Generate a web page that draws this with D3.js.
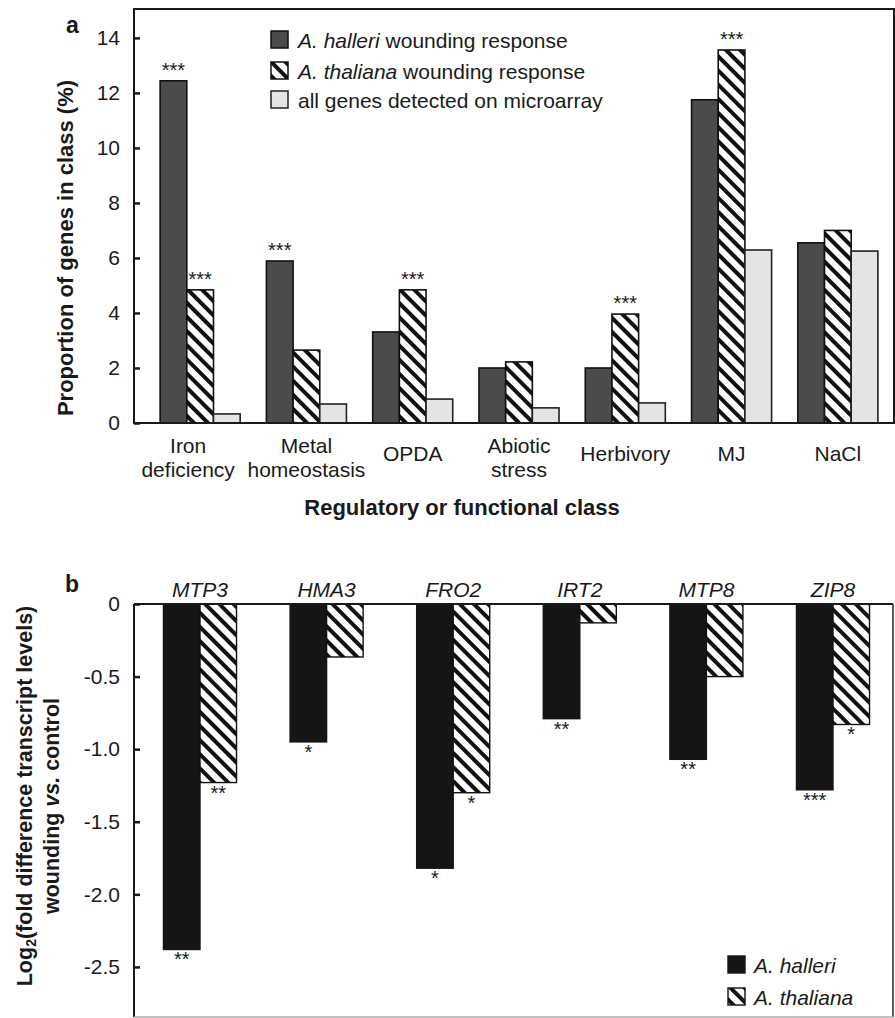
<!DOCTYPE html>
<html>
<head>
<meta charset="utf-8">
<script src="https://cdn.jsdelivr.net/npm/d3@7"></script>
<style>
  html, body { margin: 0; padding: 0; background: #fff; }
  svg { display: block; font-family: "Liberation Sans", Arial, sans-serif; }
</style>
</head>
<body>
<svg id="chart" width="895" height="1018"></svg>
<script>
// ---------- Panel a data ----------
const categories = ["Iron deficiency", "Metal homeostasis", "OPDA", "Abiotic stress", "Herbivory", "MJ", "NaCl"];
const categoryLines = [["Iron", "deficiency"], ["Metal", "homeostasis"], ["OPDA"], ["Abiotic", "stress"], ["Herbivory"], ["MJ"], ["NaCl"]];
const seriesNamesA = ["A. halleri wounding response", "A. thaliana wounding response", "all genes detected on microarray"];
const halleriPct  = [12.44, 5.89, 3.31, 2.00, 2.00, 11.75, 6.55];
const thalianaPct = [4.84, 2.65, 4.84, 2.22, 3.96, 13.56, 7.00];
const allGenesPct = [0.33, 0.69, 0.87, 0.55, 0.73, 6.29, 6.25];
const halleriSigA  = ["***", "***", "", "", "", "", ""];
const thalianaSigA = ["***", "", "***", "", "***", "***", ""];
const allGenesSigA = ["", "", "", "", "", "", ""];
const yTicksA = [0, 2, 4, 6, 8, 10, 12, 14];

// ---------- Panel b data ----------
const genes = ["MTP3", "HMA3", "FRO2", "IRT2", "MTP8", "ZIP8"];
const seriesNamesB = ["A. halleri", "A. thaliana"];
const halleriLog2  = [-2.38, -0.95, -1.82, -0.79, -1.07, -1.28];
const thalianaLog2 = [-1.23, -0.365, -1.30, -0.13, -0.50, -0.83];
const halleriSigB  = ["**", "*", "*", "**", "**", "***"];
const thalianaSigB = ["**", "", "*", "", "", "*"];
const yTicksB = [0, -0.5, -1.0, -1.5, -2.0, -2.5];
const yTickLabelsB = ["0", "-0.5", "-1.0", "-1.5", "-2.0", "-2.5"];

const svg = d3.select("#chart");
const ink = "#1a1a1a";

// hatch pattern
const defs = svg.append("defs");
const pat = defs.append("pattern")
  .attr("id", "hatch").attr("patternUnits", "userSpaceOnUse")
  .attr("width", 10).attr("height", 10)
  .attr("patternTransform", "rotate(45)");
pat.append("rect").attr("width", 10).attr("height", 10).attr("fill", "#fff");
pat.append("rect").attr("width", 10).attr("height", 4).attr("fill", "#111");

// =================== PANEL A ===================
const A = { left: 134, right: 894, top: 9, bottom: 423 };
const xA = d3.scaleBand().domain(categories).range([147, 891]).paddingInner(0.247).paddingOuter(0.1235);
const sA = d3.scaleBand().domain([0, 1, 2]).range([0, xA.bandwidth()]);
const yA = d3.scaleLinear().domain([0, 15.05]).range([A.bottom, A.top]);

const gA = svg.append("g");
const seriesA = [
  { vals: halleriPct, sig: halleriSigA, fill: "#4b4b4b", stroke: "#111" },
  { vals: thalianaPct, sig: thalianaSigA, fill: "url(#hatch)", stroke: "#111" },
  { vals: allGenesPct, sig: allGenesSigA, fill: "#e4e4e4", stroke: "#222" }
];
seriesA.forEach((s, si) => {
  gA.selectAll(null).data(categories).enter().append("rect")
    .attr("x", c => xA(c) + sA(si))
    .attr("y", (c, i) => yA(s.vals[i]))
    .attr("width", sA.bandwidth())
    .attr("height", (c, i) => yA(0) - yA(s.vals[i]))
    .attr("fill", s.fill).attr("stroke", s.stroke).attr("stroke-width", 1.6);
  gA.selectAll(null).data(categories).enter().append("text")
    .attr("x", c => xA(c) + sA(si) + sA.bandwidth() / 2)
    .attr("y", (c, i) => yA(s.vals[i]) - 4)
    .attr("text-anchor", "middle").attr("font-size", 20).attr("fill", ink)
    .text((c, i) => s.sig[i]);
});

// frame
gA.append("rect").attr("x", A.left).attr("y", A.top)
  .attr("width", A.right - A.left).attr("height", A.bottom - A.top)
  .attr("fill", "none").attr("stroke", ink).attr("stroke-width", 2);

// y axis
const axA = gA.append("g").attr("transform", `translate(${A.left},0)`)
  .call(d3.axisLeft(yA).tickValues(yTicksA).tickSizeInner(-6).tickSizeOuter(0).tickPadding(14));
axA.select(".domain").remove();
axA.selectAll(".tick line").attr("stroke", ink).attr("stroke-width", 2.5);
axA.selectAll(".tick text").attr("font-size", 21).attr("fill", ink).attr("font-family", "Liberation Sans, Arial, sans-serif");

// category labels
categoryLines.forEach((lines, i) => {
  const cx = xA(categories[i]) + xA.bandwidth() / 2 + (i === 0 ? -12 : 0);
  const t = gA.append("text").attr("text-anchor", "middle").attr("font-size", 21).attr("fill", ink);
  if (lines.length === 1) {
    t.append("tspan").attr("x", cx).attr("y", 453).attr("dominant-baseline", "central").text(lines[0]);
  } else {
    lines.forEach((ln, k) => t.append("tspan").attr("x", cx).attr("y", 445 + k * 24).attr("dominant-baseline", "central").text(ln));
  }
});

gA.append("text").attr("x", 462).attr("y", 507).attr("text-anchor", "middle")
  .attr("dominant-baseline", "central").attr("font-size", 22).attr("font-weight", "bold").attr("fill", ink)
  .text("Regulatory or functional class");

gA.append("text").attr("transform", "translate(65,248) rotate(-90)").attr("text-anchor", "middle")
  .attr("dominant-baseline", "central").attr("font-size", 22).attr("font-weight", "bold").attr("fill", ink)
  .text("Proportion of genes in class (%)");

gA.append("text").attr("x", 66).attr("y", 33).attr("font-size", 23).attr("font-weight", "bold").attr("fill", ink).text("a");

// legend A
const legA = gA.append("g");
const legYA = [40, 71, 100];
seriesA.forEach((s, i) => {
  legA.append("rect").attr("x", 271).attr("y", legYA[i] - 9).attr("width", 17).attr("height", 17)
    .attr("fill", s.fill).attr("stroke", s.stroke).attr("stroke-width", 1.5);
  const t = legA.append("text").attr("x", 298).attr("y", legYA[i]).attr("dominant-baseline", "central")
    .attr("font-size", 21).attr("fill", ink);
  const name = seriesNamesA[i];
  const m = name.match(/^(A\. \w+)( .*)$/);
  if (m) {
    t.append("tspan").attr("font-style", "italic").text(m[1]);
    t.append("tspan").text(m[2]);
  } else {
    t.text(name);
  }
});

// =================== PANEL B ===================
const B = { left: 134, right: 893, top: 604, bottom: 1017 };
const xB = d3.scaleBand().domain(genes).range([136.7, 896.3]).paddingInner(0.423).paddingOuter(0.2115);
const sB = d3.scaleBand().domain([0, 1]).range([0, xB.bandwidth()]);
const yB = d3.scaleLinear().domain([-2.845, 0]).range([B.bottom, B.top]);

const gB = svg.append("g");
const seriesB = [
  { vals: halleriLog2, sig: halleriSigB, fill: "#151515", stroke: "#151515" },
  { vals: thalianaLog2, sig: thalianaSigB, fill: "url(#hatch)", stroke: "#111" }
];
seriesB.forEach((s, si) => {
  gB.selectAll(null).data(genes).enter().append("rect")
    .attr("x", g => xB(g) + sB(si))
    .attr("y", yB(0))
    .attr("width", sB.bandwidth())
    .attr("height", (g, i) => yB(s.vals[i]) - yB(0))
    .attr("fill", s.fill).attr("stroke", s.stroke).attr("stroke-width", 1.4);
  gB.selectAll(null).data(genes).enter().append("text")
    .attr("x", g => xB(g) + sB(si) + sB.bandwidth() / 2)
    .attr("y", (g, i) => yB(s.vals[i]) + 17)
    .attr("text-anchor", "middle").attr("font-size", 20).attr("fill", ink)
    .text((g, i) => s.sig[i]);
});

// frame B
gB.append("line").attr("x1", B.left).attr("x2", B.right).attr("y1", B.top).attr("y2", B.top).attr("stroke", ink).attr("stroke-width", 2);
gB.append("line").attr("x1", B.left).attr("x2", B.left).attr("y1", B.top).attr("y2", B.bottom).attr("stroke", ink).attr("stroke-width", 2);
gB.append("line").attr("x1", B.right).attr("x2", B.right).attr("y1", B.top).attr("y2", B.bottom).attr("stroke", "#333").attr("stroke-width", 1.6);
gB.append("line").attr("x1", B.left).attr("x2", B.right).attr("y1", B.bottom).attr("y2", B.bottom).attr("stroke", "#aaa").attr("stroke-width", 1.6);

const axB = gB.append("g").attr("transform", `translate(${B.left},0)`)
  .call(d3.axisLeft(yB).tickValues(yTicksB).tickFormat((d, i) => yTickLabelsB[i]).tickSizeInner(-6).tickSizeOuter(0).tickPadding(14));
axB.select(".domain").remove();
axB.selectAll(".tick line").attr("stroke", ink).attr("stroke-width", 2.5);
axB.selectAll(".tick text").attr("font-size", 21).attr("fill", ink).attr("font-family", "Liberation Sans, Arial, sans-serif");

// gene labels
gB.selectAll(null).data(genes).enter().append("text")
  .attr("x", g => xB(g) + xB.bandwidth() / 2).attr("y", 589)
  .attr("text-anchor", "middle").attr("dominant-baseline", "central")
  .attr("font-size", 21).attr("font-style", "italic").attr("fill", ink).text(g => g);

// y title B
const t1 = gB.append("text").attr("transform", "translate(25,796) rotate(-90)").attr("text-anchor", "middle")
  .attr("dominant-baseline", "central").attr("font-size", 21.5).attr("font-weight", "bold").attr("fill", ink);
t1.append("tspan").text("Log");
t1.append("tspan").attr("font-size", 14).attr("dy", 6).text("2");
t1.append("tspan").attr("dy", -6).text("(fold difference transcript levels)");
const t2 = gB.append("text").attr("transform", "translate(52,806) rotate(-90)").attr("text-anchor", "middle")
  .attr("dominant-baseline", "central").attr("font-size", 21.5).attr("font-weight", "bold").attr("fill", ink);
t2.append("tspan").text("wounding ");
t2.append("tspan").attr("font-style", "italic").text("vs.");
t2.append("tspan").text(" control");

gB.append("text").attr("x", 65).attr("y", 592).attr("font-size", 23).attr("font-weight", "bold").attr("fill", ink).text("b");

// legend B
const legYB = [965, 997];
seriesB.forEach((s, i) => {
  gB.append("rect").attr("x", 728).attr("y", legYB[i] - 9).attr("width", 17).attr("height", 17)
    .attr("fill", s.fill).attr("stroke", s.stroke).attr("stroke-width", 1.4);
  gB.append("text").attr("x", 754).attr("y", legYB[i]).attr("dominant-baseline", "central")
    .attr("font-size", 21).attr("font-style", "italic").attr("fill", ink).text(seriesNamesB[i]);
});
</script>
</body>
</html>
